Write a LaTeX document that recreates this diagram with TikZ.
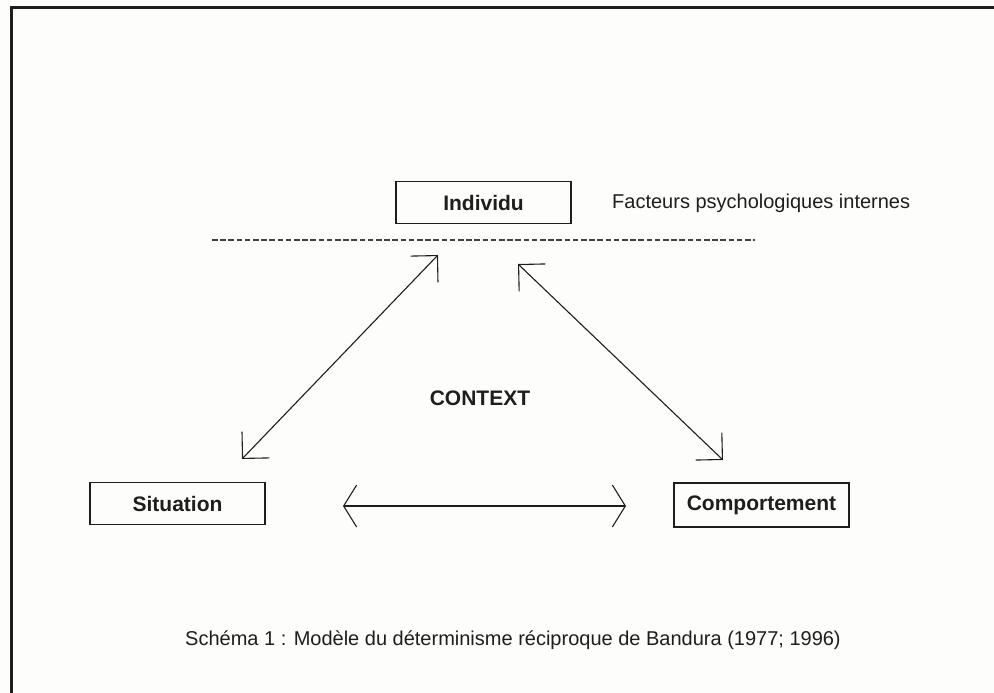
\documentclass[tikz,border=0pt]{standalone}
\usepackage{fontspec}
\setmainfont{Liberation Sans}
\usetikzlibrary{arrows.meta}
\definecolor{bg}{RGB}{253,253,251}
\definecolor{ink}{RGB}{30,30,30}
\begin{document}
\begin{tikzpicture}[x=1pt,y=-1pt,
  box/.style={draw=ink, line width=1.3pt, minimum width=175pt, minimum height=42pt,
    inner sep=0pt, text=ink, font=\fontsize{21}{25}\selectfont\bfseries},
  plain/.style={text=ink, inner sep=0pt, font=\fontsize{20}{24}\selectfont},
  diagarr/.style={draw=ink, line width=1.1pt,
    {Straight Barb[length=19pt,width=38pt]}-{Straight Barb[length=19pt,width=38pt]}},
  horarr/.style={draw=ink, line width=1.1pt,
    {Straight Barb[length=13pt,width=42pt]}-{Straight Barb[length=13pt,width=42pt]}}]
\fill[bg] (0,0) rectangle (994,693);
\useasboundingbox (0,0) rectangle (994,693);
\draw[ink, line width=2.6pt] (11.3,700) -- (11.3,7.7) -- (1000,7.7);

\node[box] (ind) at (483.5,202.5) {Individu};
\node[box] (sit) at (177.5,503.5) {Situation};
\node[box, minimum height=44pt] (comp) at (761.5,505) {Comportement};
\node[plain, anchor=west] (fact) at (612,203) {Facteurs psychologiques internes};
\node[plain, font=\fontsize{21}{25}\selectfont\bfseries] (ctx) at (480,398) {CONTEXT};
\node[plain] (cap) at (513,640) {Schéma 1 : Modèle du déterminisme réciproque de Bandura (1977; 1996)};

\coordinate (dl) at (212,240);
\coordinate (dr) at (755,240);
\draw[ink!85, line width=1.2pt, dash pattern=on 5.5pt off 2.7pt] (dl) -- (dr);

\coordinate (a1) at (242,459);
\coordinate (a2) at (438,255);
\coordinate (b1) at (518,264);
\coordinate (b2) at (723,460);
\coordinate (c1) at (343,506);
\coordinate (c2) at (626,506);
\draw[diagarr] (a1) -- (a2);
\draw[diagarr] (b1) -- (b2);
\draw[horarr] (c1) -- (c2);
\end{tikzpicture}
\end{document}
